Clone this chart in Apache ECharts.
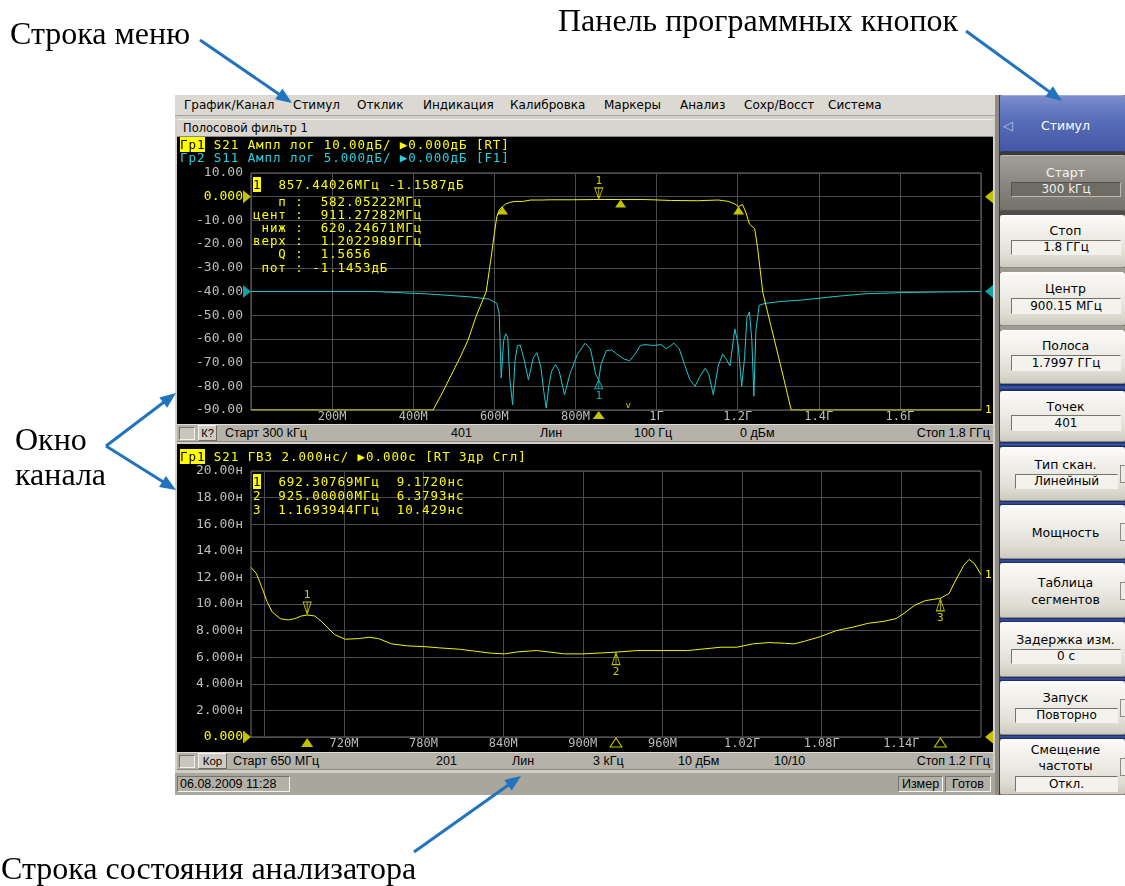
<!DOCTYPE html>
<html lang="ru">
<head>
<meta charset="utf-8">
<title>Окно анализатора цепей</title>
<script src="https://cdn.jsdelivr.net/npm/echarts@6/dist/echarts.min.js"></script>
<style>
*{box-sizing:border-box}
html,body{margin:0;padding:0;width:1125px;height:886px;background:#fff;overflow:hidden}
body{position:relative;font-family:"DejaVu Sans",sans-serif}
.a{position:absolute}
.menu span{position:absolute;top:0;font-size:12px;line-height:21px;color:#000;white-space:nowrap}
.bar{position:absolute;left:177px;width:816px;height:18px;background:#b5b2aa;border-top:1px solid #dedbd4;border-bottom:1px solid #8a877f}
.bar span{position:absolute;top:0;line-height:16px;font-family:"Liberation Sans",Arial,sans-serif;font-size:12.5px;color:#000;white-space:pre}
.sunk{border-top:1px solid #76736c;border-left:1px solid #76736c;border-bottom:1px solid #f4f2ee;border-right:1px solid #f4f2ee}
.rais{border-top:1px solid #f6f4f0;border-left:1px solid #f6f4f0;border-bottom:1px solid #6c6963;border-right:1px solid #6c6963}
.mono{position:absolute;z-index:3;font-family:"DejaVu Sans Mono",monospace;font-size:12.5px;letter-spacing:0.93px;line-height:13px;white-space:pre}
.hl{background:#ffff00;color:#000}
.btn{position:absolute;left:1000px;width:125px;border-radius:3px 3px 2px 2px;background:linear-gradient(#fbfaf7 0%,#efede8 40%,#dedbd2 80%,#cdc9bf 100%);border-top:1px solid #fff;border-bottom:1px solid #8e8b83}
.btn.sel{background:linear-gradient(#a29f98 0%,#8d8a84 45%,#75726c 100%);border-top:1px solid #bdbab3;border-bottom:1px solid #56534e}
.btn.blue{background:linear-gradient(#7b8dcc 0%,#5a6fbb 40%,#4458a6 100%);border-top:1px solid #9aa8dc;border-bottom:1px solid #2a3a7a}
.bt{position:absolute;left:1003px;width:125px;text-align:center;font-size:12.5px;line-height:16px;color:#000;white-space:nowrap}
.vb{position:absolute;text-align:center;font-size:12px;color:#000;background:#f3f2ed;white-space:nowrap}
</style>
</head>
<body>
<!-- analyzer window frame -->
<div class="a" style="left:175px;top:95px;width:820px;height:700px;background:#d4d0c8"></div>
<div class="a menu" style="left:175px;top:95px;width:820px;height:21px;background:#dcd9d2;border-bottom:1px solid #a8a59d">
  <span style="left:9px">График/Канал</span>
  <span style="left:118px">Стимул</span>
  <span style="left:182px">Отклик</span>
  <span style="left:248px">Индикация</span>
  <span style="left:335px">Калибровка</span>
  <span style="left:429px">Маркеры</span>
  <span style="left:505px">Анализ</span>
  <span style="left:569px">Сохр/Восст</span>
  <span style="left:653px">Система</span>
</div>
<div class="a" style="left:177px;top:119px;width:816px;height:18px;background:#d8d5ce;border-top:1px solid #f2f0ec;border-bottom:1px solid #8e8b84;font-size:11.5px;line-height:16px;padding-left:6px;color:#000">Полосовой фильтр 1</div>
<div class="a" style="left:177px;top:137px;width:816px;height:287px;background:#000"></div>
<div class="bar" style="top:424px">
  <div class="a sunk" style="left:2px;top:2px;width:16px;height:13px;background:#c9c6be"></div>
  <div class="a rais" style="left:21px;top:0px;width:19px;height:16px;background:#cfccc4;font:11px 'Liberation Sans',sans-serif;line-height:14px;text-align:center">К?</div>
  <span style="left:48px">Старт 300 kГц</span>
  <span style="left:274px">401</span>
  <span style="left:363px">Лин</span>
  <span style="left:457px">100 Гц</span>
  <span style="left:563px">0 дБм</span>
  <span style="right:3px">Стоп 1.8 ГГц</span>
</div>
<div class="a" style="left:177px;top:444px;width:816px;height:308px;background:#000"></div>
<div class="bar" style="top:752px">
  <div class="a sunk" style="left:2px;top:2px;width:16px;height:13px;background:#c9c6be"></div>
  <div class="a rais" style="left:21px;top:0px;width:29px;height:16px;background:#cfccc4;font:11.5px 'Liberation Sans',sans-serif;line-height:14px;text-align:center">Кор</div>
  <span style="left:56px">Старт 650 МГц</span>
  <span style="left:259px">201</span>
  <span style="left:335px">Лин</span>
  <span style="left:416px">3 kГц</span>
  <span style="left:501px">10 дБм</span>
  <span style="left:597px">10/10</span>
  <span style="right:3px">Стоп 1.2 ГГц</span>
</div>
<div class="a" style="left:175px;top:772px;width:820px;height:23px;background:#a9a69e;border-top:1px solid #cfccc5">
  <div class="a sunk" style="left:2px;top:3px;width:113px;height:16px;background:#b3b0a8;font:12.5px 'Liberation Sans',sans-serif;line-height:14px;padding-left:2px">06.08.2009 11:28</div>
  <div class="a sunk" style="left:723px;top:3px;width:45px;height:16px;background:#b3b0a8;font:12.5px 'Liberation Sans',sans-serif;line-height:14px;text-align:center">Измер</div>
  <div class="a sunk" style="left:770px;top:3px;width:46px;height:16px;background:#b3b0a8;font:12.5px 'Liberation Sans',sans-serif;line-height:14px;text-align:center">Готов</div>
</div>

<!-- soft-key panel -->
<div class="a" style="left:995px;top:95px;width:130px;height:700px;background:#6e6b65"></div>
<div class="a" style="left:995px;top:95px;width:5px;height:700px;background:#8f8c85;border-right:1px solid #3d3b38"></div>
<div id="panel"></div>

<!-- chart canvas -->
<div id="ec" class="a" style="left:0;top:0;width:1125px;height:886px;z-index:2"></div>

<!-- channel headers and marker readouts -->
<div class="mono" style="left:180px;top:137.5px;color:#ffff00"><span class="hl">Гр1</span> S21 Ампл лог 10.00дБ/ ▶0.000дБ [RT]</div>
<div class="mono" style="left:180px;top:150.5px;color:#27d2de">Гр2 S11 Ампл лог 5.000дБ/ ▶0.000дБ [F1]</div>
<div class="mono" style="left:253px;top:177.5px;color:#ffff00"><span class="hl">1</span>  857.44026МГц -1.1587дБ</div>
<div class="mono" style="left:253px;top:194.5px;line-height:13.2px;color:#ffff00">   п :  582.05222МГц
цент :  911.27282МГц
 ниж :  620.24671МГц
верх :  1.2022989ГГц
   Q :  1.5656
 пот : -1.1453дБ</div>
<div class="mono" style="left:180px;top:449.5px;color:#ffff00"><span class="hl">Гр1</span> S21 ГВЗ 2.000нс/ ▶0.000с [RT Здр Сгл]</div>
<div class="mono" style="left:253px;top:475px;line-height:14px;color:#ffff00"><span class="hl">1</span>  692.30769МГц  9.1720нс
2  925.00000МГц  6.3793нс
3  1.1693944ГГц  10.429нс</div>

<!-- annotations -->
<svg id="ann" class="a" style="left:0;top:0;z-index:5" width="1125" height="886">
  <g font-family="Liberation Serif, serif" font-size="32" fill="#000">
    <text x="10" y="44">Строка меню</text>
    <text x="558" y="31">Панель программных кнопок</text>
    <text x="15" y="450">Окно</text>
    <text x="15" y="485">канала</text>
    <text x="1" y="879">Строка состояния анализатора</text>
  </g>
  <g id="arrows"></g>
</svg>

<script>
// ---------------- data ----------------
// Channel 1, trace 1: S21 magnitude, dB (frequency in MHz)
const s21Trace = [
  [0.3,-90],[449,-90],[471,-83],[493,-75.5],[515,-68],[535,-60.6],[555,-50.5],[580,-40],[591,-27],
  [600,-15.5],[606,-8.5],[613,-5.3],[620.25,-4.16],[628,-3.1],[638,-2.4],[651,-2.0],[670,-2.0],
  [690,-1.4],[715,-1.4],[741,-1.3],[792,-1.3],[844,-1.2],[857.44,-1.16],[908,-1.2],[972,-1.2],
  [1037,-1.6],[1101,-1.7],[1152,-1.4],[1178,-2.0],[1192,-3.0],[1202.3,-4.16],[1212,-3.3],[1220,-6.5],
  [1229,-11.5],[1242,-13.5],[1249,-21.4],[1262,-40.4],[1281,-53.8],[1307,-72],[1332,-90],[1800,-90]
];
// Channel 1, trace 2: S11 magnitude, dB (5 dB/div, reference 0 dB)
const s11Trace = [
  [0.3,0],[304,0],[432,-0.5],[535,-1.1],[587,-1.6],[606,-2.5],[612,-4.6],[617,-18.2],[623,-10.4],
  [628,-8.9],[633,-9.6],[638,-18.2],[645,-23.9],[651,-14.6],[657,-11.4],[664,-11.3],[674,-14.6],
  [684,-18.6],[696,-14.0],[705,-12.9],[715,-16.1],[722,-21.1],[728,-24.6],[735,-19.6],[741,-16.8],
  [751,-15.4],[760,-16.8],[773,-21.8],[786,-17.5],[805,-13.2],[824,-10.9],[837,-12.1],[850,-17.5],
  [857.44,-18.6],[863,-15.4],[876,-12.5],[889,-12.3],[902,-13.2],[921,-14.3],[934,-14.6],[947,-13.2],
  [960,-11.4],[972,-11.2],[992,-11.4],[1011,-11.2],[1024,-12.1],[1043,-10.9],[1056,-12.1],[1069,-15.4],
  [1082,-18.6],[1095,-20.0],[1107,-17.9],[1120,-16.2],[1129,-17.5],[1140,-21.8],[1152,-15.7],[1163,-13.2],
  [1172,-14.3],[1181,-15.7],[1193,-7.9],[1201,-11.1],[1210,-20.0],[1217,-14.0],[1223,-5.4],[1229,-4.3],
  [1235,-10.4],[1240,-22.1],[1245,-8.2],[1253,-2.9],[1268,-2.5],[1307,-2.1],[1358,-1.8],[1435,-1.1],
  [1512,-0.5],[1615,-0.2],[1800,0]
];
// Channel 2, trace 1: S21 group delay, ns
const gdTrace = [
  [650,12.75],[654,12.3],[658,11.3],[662,10.2],[666,9.4],[672,8.9],[678,8.8],[683,8.9],[688,9.1],
  [692.31,9.172],[698,9.1],[703,8.7],[713,7.7],[721,7.35],[731,7.4],[739,7.5],[746,7.4],[756,7.0],
  [768,6.85],[780,6.8],[792,6.7],[807,6.6],[819,6.45],[831,6.3],[841,6.25],[851,6.4],[865,6.5],
  [874,6.4],[886,6.25],[900,6.25],[910,6.3],[925,6.3793],[941,6.5],[961,6.5],[979,6.5],[989,6.6],
  [1004,6.75],[1016,6.75],[1028,7.0],[1040,7.1],[1052,7.05],[1059,7.0],[1067,7.2],[1079,7.55],
  [1091,8.0],[1103,8.25],[1115,8.55],[1127,8.7],[1136,8.9],[1142,9.3],[1150,9.9],[1158,10.25],
  [1164,10.35],[1169.39,10.429],[1176,10.8],[1181,11.8],[1187,12.9],[1191,13.35],[1195,13.05],[1200,12.2]
];
// markers
const mkrFreq = 857.44026, mkrS21 = -1.1587, mkrS11 = -18.6;
const bwFreq = [620.24671, 911.27282, 1202.2989];
const bwS21 = [-4.16, -1.2, -4.16];
const gdMkrFreq = [692.30769, 925.0, 1169.3944];
const gdMkrNs = [9.172, 6.3793, 10.429];
const gdMkrNames = ['1', '2', '3'];
// reference levels
const refS21 = 0, refS11 = 0, refGd = 0;
// axes
const f1Min = 0, f1Max = 1800, f1Step = 200;
const f1Ticks = [200, 400, 600, 800, 1000, 1200, 1400, 1600];
const f1Labels = ['200M', '400M', '600M', '800M', '1Г', '1.2Г', '1.4Г', '1.6Г'];
const dbTicks = [10, 0, -10, -20, -30, -40, -50, -60, -70, -80, -90];
const dbLabels = ['10.00', '0.000', '-10.00', '-20.00', '-30.00', '-40.00', '-50.00', '-60.00', '-70.00', '-80.00', '-90.00'];
const s11Range = [-25, 25];
const f2Min = 650, f2Max = 1200;
const f2Grid = [660, 720, 780, 840, 900, 960, 1020, 1080, 1140];
const f2Ticks = [720, 780, 840, 900, 960, 1020, 1080, 1140];
const f2Labels = ['720M', '780M', '840M', '900M', '960M', '1.02Г', '1.08Г', '1.14Г'];
const nsTicks = [20, 18, 16, 14, 12, 10, 8, 6, 4, 2, 0];
const nsLabels = ['20.00н', '18.00н', '16.00н', '14.00н', '12.00н', '10.00н', '8.000н', '6.000н', '4.000н', '2.000н', '0.000'];

// ---------------- soft-key panel ----------------
const btns = [
  {t:95, b:152, kind:'blue', txt:[['Стимул',126]]},
  {t:155, b:211, kind:'sel', txt:[['Старт',173]], box:[182,197,'300 kГц']},
  {t:215, b:268, txt:[['Стоп',231]], box:[240,255,'1.8 ГГц']},
  {t:272, b:326, txt:[['Центр',289]], box:[298,314,'900.15 МГц']},
  {t:330, b:384, txt:[['Полоса',346]], box:[355,371,'1.7997 ГГц']},
  {t:391, b:442, txt:[['Точек',407]], box:[415,431,'401']},
  {t:447, b:501, txt:[['Тип скан.',465]], box:[474,489,'Линейный'], notch:true},
  {t:505, b:559, txt:[['Мощность',533]], notch:true},
  {t:563, b:618, txt:[['Таблица',583],['сегментов',600]], notch:true},
  {t:622, b:677, txt:[['Задержка изм.',640]], box:[649,664,'0 с']},
  {t:681, b:735, txt:[['Запуск',698]], box:[708,723,'Повторно'], notch:true},
  {t:739, b:795, txt:[['Смещение',750],['частоты',766]], box:[776,792,'Откл.'], notch:true}
];
const seps = [[152,155,'#3c3a37'],[211,215,'#4e4c48'],[268,272,'#9e9b93'],[326,330,'#9e9b93'],
  [384,391,'b'],[442,447,'b'],[501,505,'b'],[559,563,'b'],[618,622,'b'],[677,681,'b'],[735,739,'b']];
const panel = document.getElementById('panel');
function add(cls, css, text) {
  const d = document.createElement('div');
  d.className = cls; d.style.cssText = css;
  if (text !== undefined) d.textContent = text;
  panel.appendChild(d); return d;
}
seps.forEach(([t, b, c]) => {
  const bg = c === 'b' ? 'linear-gradient(#15235c,#3d55a8 50%,#15235c)' : c;
  add('a', `left:1000px;top:${t}px;width:125px;height:${b - t}px;background:${bg}`);
});
btns.forEach(bt => {
  add('btn' + (bt.kind ? ' ' + bt.kind : ''), `top:${bt.t}px;height:${bt.b - bt.t}px`);
  const col = bt.kind === 'blue' ? '#ffffff' : bt.kind === 'sel' ? '#f4f4f0' : '#000';
  bt.txt.forEach(([s, cy]) => add('bt', `top:${cy - 8}px;color:${col}`, s));
  if (bt.box) {
    const [t, b, s] = bt.box;
    const l = bt.notch ? 1015 : 1011, w = bt.notch ? 103 : 110;
    const sel = bt.kind === 'sel';
    add('vb sunk', `left:${l}px;top:${t}px;width:${w}px;height:${b - t}px;line-height:${b - t - 2}px;` +
      (sel ? 'background:#6f6c66;color:#f0f0ec;border-color:#55524d #bcb9b2 #bcb9b2 #55524d' : ''), s);
  }
  if (bt.notch) {
    const cy = (bt.t + bt.b) / 2;
    add('a', `left:1120px;top:${cy - 9}px;width:5px;height:18px;background:#ecebe6;border:1px solid #8e8b83;border-right:none`);
  }
  if (bt.kind === 'blue') add('a', 'left:1003px;top:118px;font-size:13px;line-height:16px;color:#b9c3ea', '◁');
});

// ---------------- annotation arrows ----------------
const arrows = [[200,40,292,103],[966,31,1062,101],[106,446,176,393],[106,446,176,490],[414,852,521,776]];
const ag = document.getElementById('arrows');
arrows.forEach(([x1, y1, x2, y2]) => {
  const dx = x2 - x1, dy = y2 - y1, L = Math.hypot(dx, dy), ux = dx / L, uy = dy / L;
  const hl = 16, hw = 6.5, bx = x2 - ux * hl, by = y2 - uy * hl;
  const ns = 'http://www.w3.org/2000/svg';
  const ln = document.createElementNS(ns, 'line');
  ln.setAttribute('x1', x1); ln.setAttribute('y1', y1);
  ln.setAttribute('x2', x2 - ux * hl * 0.7); ln.setAttribute('y2', y2 - uy * hl * 0.7);
  ln.setAttribute('stroke', '#2273bd'); ln.setAttribute('stroke-width', '3');
  ag.appendChild(ln);
  const pg = document.createElementNS(ns, 'polygon');
  pg.setAttribute('points', `${x2},${y2} ${bx - uy * hw},${by + ux * hw} ${bx + uy * hw},${by - ux * hw}`);
  pg.setAttribute('fill', '#2273bd');
  ag.appendChild(pg);
});

// ---------------- chart ----------------
const Y = '#f2f200', YT = '#ffff00', C = '#1ec6cc', CT = '#27d2de', GRID = '#4c4c4c', LBL = '#bdbdbd';
const MONO = '"DejaVu Sans Mono", monospace';
const TRI_U = 'path://M5,0L10,10L0,10Z';
const TRI_R = 'path://M0,0L10,5L0,10Z';
const TRI_L = 'path://M10,0L0,5L10,10Z';
const MK_D = 'path://M0,0L10,0L5,12ZM5,0L5,12';
const MK_U = 'path://M5,0L10,12L0,12ZM5,0L5,12';
const lookup = (ticks, labels) => v => {
  const i = ticks.findIndex(t => Math.abs(t - v) < 1e-6);
  return i < 0 ? '' : labels[i];
};
const refColor = v => (Math.abs(+v) < 1e-9 ? YT : LBL);
const hollow = c => ({color: 'rgba(0,0,0,0)', borderColor: c, borderWidth: 1});
const mLabel = (pos, txt, c) => ({show: true, position: pos, distance: 1, formatter: txt, color: c, fontSize: 11, fontFamily: MONO});

const chart = echarts.init(document.getElementById('ec'), null, {renderer: 'canvas'});
chart.setOption({
  backgroundColor: 'transparent',
  animation: false,
  grid: [
    {left: 251, top: 173, width: 730, height: 237, show: true, borderColor: '#707070', borderWidth: 1,
     backgroundColor: 'transparent', containLabel: false, outerBoundsMode: 'none'},
    {left: 251, top: 471, width: 730, height: 266, show: true, borderColor: '#707070', borderWidth: 1,
     backgroundColor: 'transparent', containLabel: false, outerBoundsMode: 'none'}
  ],
  xAxis: [
    {gridIndex: 0, type: 'value', min: f1Min, max: f1Max, interval: f1Step,
     axisLine: {show: false}, axisTick: {show: false},
     splitLine: {show: true, lineStyle: {color: GRID, width: 1}},
     axisLabel: {formatter: lookup(f1Ticks, f1Labels), color: LBL, fontFamily: MONO, fontSize: 12, margin: 1}},
    {gridIndex: 1, type: 'value', min: f2Min, max: f2Max,
     axisLine: {show: false}, axisTick: {show: false, customValues: f2Grid},
     splitLine: {show: true, lineStyle: {color: GRID, width: 1}},
     axisLabel: {customValues: f2Ticks, formatter: lookup(f2Ticks, f2Labels), color: LBL, fontFamily: MONO, fontSize: 12, margin: 1}}
  ],
  yAxis: [
    {gridIndex: 0, type: 'value', min: -90, max: 10, interval: 10,
     axisLine: {show: false}, axisTick: {show: false},
     splitLine: {show: true, lineStyle: {color: GRID, width: 1}},
     axisLabel: {formatter: lookup(dbTicks, dbLabels), color: refColor, fontFamily: MONO, fontSize: 13, margin: 8}},
    {gridIndex: 0, type: 'value', min: s11Range[0], max: s11Range[1], show: false, splitLine: {show: false}},
    {gridIndex: 1, type: 'value', min: 0, max: 20, interval: 2,
     axisLine: {show: false}, axisTick: {show: false},
     splitLine: {show: true, lineStyle: {color: GRID, width: 1}},
     axisLabel: {formatter: lookup(nsTicks, nsLabels), color: refColor, fontFamily: MONO, fontSize: 13, margin: 8}}
  ],
  series: [
    {type: 'line', name: 'S21', xAxisIndex: 0, yAxisIndex: 0, data: s21Trace, symbol: 'none', z: 4,
     lineStyle: {color: Y, width: 1}, itemStyle: {color: Y},
     endLabel: {show: true, formatter: '1', color: YT, fontSize: 11, fontFamily: MONO, distance: 4}},
    {type: 'line', name: 'S11', xAxisIndex: 0, yAxisIndex: 1, data: s11Trace, symbol: 'none', z: 3,
     lineStyle: {color: C, width: 1}, itemStyle: {color: C}},
    {type: 'line', name: 'ГВЗ', xAxisIndex: 1, yAxisIndex: 2, data: gdTrace, symbol: 'none', z: 4,
     lineStyle: {color: Y, width: 1}, itemStyle: {color: Y},
     endLabel: {show: true, formatter: '1', color: YT, fontSize: 11, fontFamily: MONO, distance: 4}},
    {type: 'scatter', xAxisIndex: 0, yAxisIndex: 0, clip: false, silent: true, z: 6, data: [
      {value: [f1Min, refS21], symbol: TRI_R, symbolSize: [8, 13], symbolOffset: [-4, 0], itemStyle: {color: Y}},
      {value: [f1Max, refS21], symbol: TRI_L, symbolSize: [8, 13], symbolOffset: [8, 0], itemStyle: {color: Y}},
      ...bwFreq.map((f, i) => ({value: [f, bwS21[i]], symbol: TRI_U, symbolSize: [11, 8], symbolOffset: [0, 4], itemStyle: {color: Y}})),
      {value: [mkrFreq, mkrS21], symbol: MK_D, symbolSize: [8, 11], symbolOffset: [0, -6], itemStyle: hollow(Y), label: mLabel('top', '1', YT)},
      {value: [mkrFreq, -90], symbol: TRI_U, symbolSize: [12, 8], symbolOffset: [0, 5], itemStyle: {color: Y}},
      {value: [930, -88], symbol: 'circle', symbolSize: 1, itemStyle: {color: 'rgba(0,0,0,0)'},
       label: {show: true, position: 'inside', formatter: 'v', color: YT, fontSize: 9, fontFamily: MONO}}
    ]},
    {type: 'scatter', xAxisIndex: 0, yAxisIndex: 1, clip: false, silent: true, z: 6, data: [
      {value: [f1Min, refS11], symbol: TRI_R, symbolSize: [8, 13], symbolOffset: [-4, 0], itemStyle: {color: C}},
      {value: [f1Max, refS11], symbol: TRI_L, symbolSize: [8, 13], symbolOffset: [8, 0], itemStyle: {color: C}},
      {value: [mkrFreq, mkrS11], symbol: MK_U, symbolSize: [8, 9], symbolOffset: [0, 4.5], itemStyle: hollow(C), label: mLabel('bottom', '1', CT)}
    ]},
    {type: 'scatter', xAxisIndex: 1, yAxisIndex: 2, clip: false, silent: true, z: 6, data: [
      {value: [f2Min, refGd], symbol: TRI_R, symbolSize: [8, 13], symbolOffset: [-4, 0], itemStyle: {color: Y}},
      {value: [f2Max, refGd], symbol: TRI_L, symbolSize: [8, 13], symbolOffset: [8, 0], itemStyle: {color: Y}},
      ...gdMkrFreq.map((f, i) => i === 0
        ? {value: [f, gdMkrNs[i]], symbol: MK_D, symbolSize: [8, 12], symbolOffset: [0, -7], itemStyle: hollow(Y), label: mLabel('top', gdMkrNames[i], YT)}
        : {value: [f, gdMkrNs[i]], symbol: MK_U, symbolSize: [8, 12], symbolOffset: [0, 6.5], itemStyle: hollow(Y), label: mLabel('bottom', gdMkrNames[i], YT)}),
      ...gdMkrFreq.map((f, i) => ({value: [f, refGd], symbol: TRI_U, symbolSize: [12, 9], symbolOffset: [0, 5.5],
        itemStyle: i === 0 ? {color: Y} : hollow(Y)}))
    ]}
  ]
});
</script>
</body>
</html>
